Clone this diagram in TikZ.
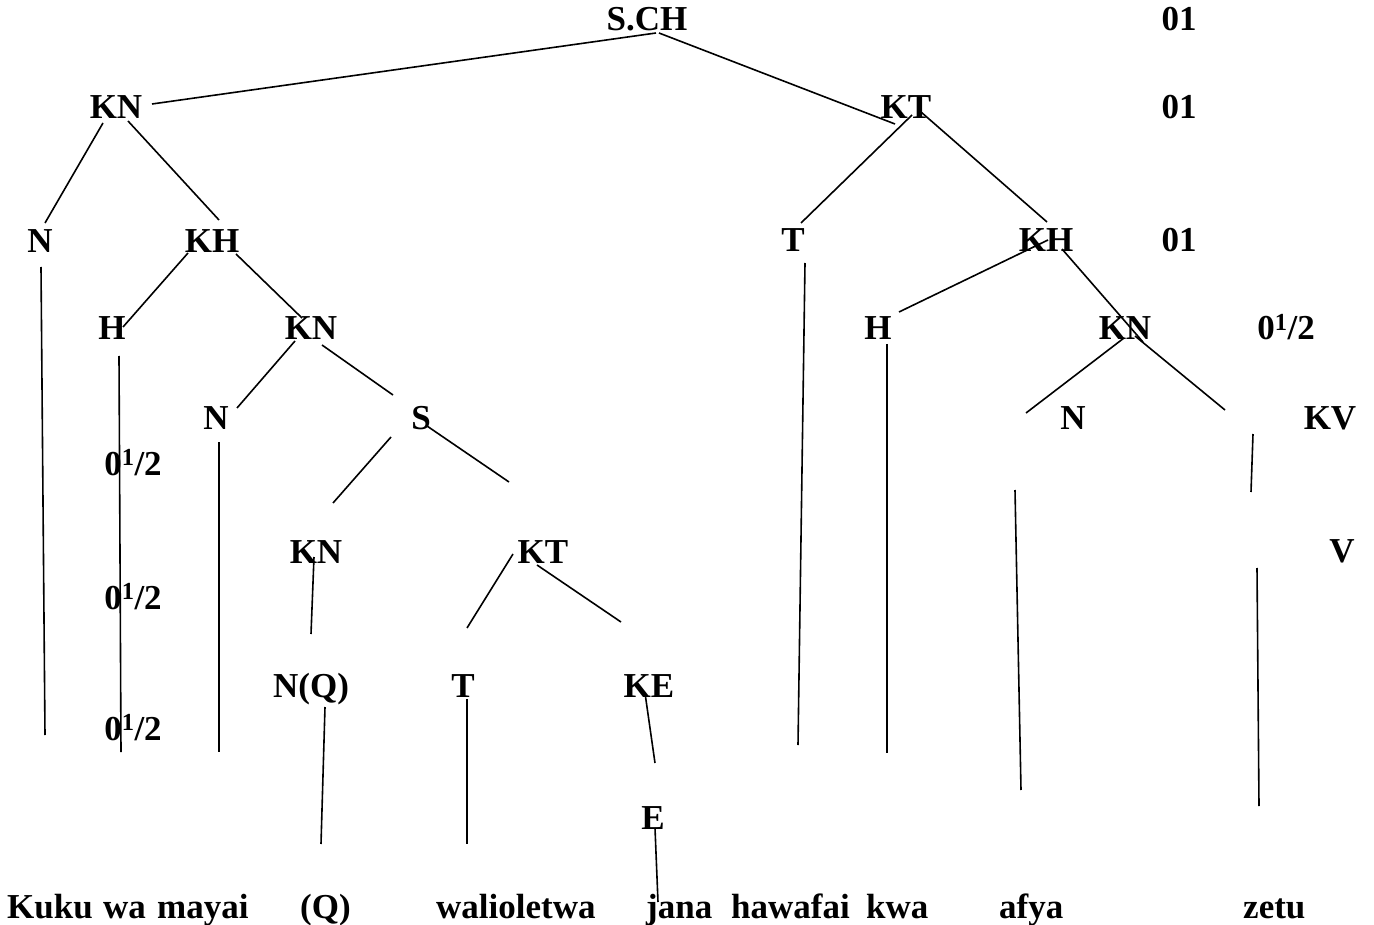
\documentclass[tikz,border=0pt]{standalone}
\usepackage{fontspec}
\setmainfont{Liberation Serif}
\tikzset{
  lbl/.style={inner sep=0pt, anchor=base, font=\bfseries\fontsize{35}{40}\selectfont},
  wrd/.style={inner sep=0pt, anchor=base west, font=\bfseries\fontsize{35}{40}\selectfont},
  conn/.style={draw=black, line width=1.6pt}
}
\newcommand{\half}{0\textsuperscript{1}/2}
\begin{document}
\begin{tikzpicture}[x=1pt,y=-1pt]
\useasboundingbox (0,0) rectangle (1374,925);
% labels
\node[lbl] (sch) at (647,31) {S.CH};
\node[lbl] (r1) at (1179,31) {01};
\node[lbl] (kn1) at (116,119) {KN};
\node[lbl] (kt1) at (906,119) {KT};
\node[lbl] (r2) at (1179,119) {01};
\node[lbl] (n1) at (40,253) {N};
\node[lbl] (kh1) at (212,253) {KH};
\node[lbl] (t1) at (793,252) {T};
\node[lbl] (kh2) at (1046,252) {KH};
\node[lbl] (r3) at (1179,252) {01};
\node[lbl] (h1) at (112,340) {H};
\node[lbl] (kn2) at (311,340) {KN};
\node[lbl] (h2) at (878,340) {H};
\node[lbl] (kn3) at (1125,340) {KN};
\node[lbl] (r4) at (1286,340) {\half};
\node[lbl] (n2) at (216,429) {N};
\node[lbl] (s1) at (421,429) {S};
\node[lbl] (n3) at (1073,429) {N};
\node[lbl] (kv) at (1330,429) {KV};
\node[lbl] (f1) at (133,475) {\half};
\node[lbl] (kn4) at (316,563) {KN};
\node[lbl] (kt2) at (543,563) {KT};
\node[lbl] (v) at (1342,562) {V};
\node[lbl] (f2) at (133,609) {\half};
\node[lbl] (nq) at (311,697) {N(Q)};
\node[lbl] (t2) at (463,697) {T};
\node[lbl] (ke) at (649,697) {KE};
\node[lbl] (f3) at (133,740) {\half};
\node[lbl] (e) at (653,829) {E};
% words
\node[wrd] (w1) at (7,918) {Kuku};
\node[wrd] (w2) at (103,918) {wa};
\node[wrd] (w3) at (157,918) {mayai};
\node[wrd] (w4) at (300,918) {(Q)};
\node[wrd] (w5) at (436,918) {walioletwa};
\node[wrd] (w6) at (646,918) {jana};
\node[wrd] (w7) at (731,918) {hawafai};
\node[wrd] (w8) at (866,918) {kwa};
\node[wrd] (w9) at (999,918) {afya};
\node[wrd] (w10) at (1243,918) {zetu};
% connector end points
\coordinate (a1) at (656,33);   \coordinate (b1) at (152,104);
\coordinate (a2) at (659,33);   \coordinate (b2) at (895,124);
\coordinate (a3) at (103,123);  \coordinate (b3) at (45,223);
\coordinate (a4) at (128,121);  \coordinate (b4) at (219,220);
\coordinate (a5) at (41,267);   \coordinate (b5) at (45,735);
\coordinate (a6) at (188,253);  \coordinate (b6) at (123,327);
\coordinate (a7) at (236,254);  \coordinate (b7) at (302,318);
\coordinate (a8) at (119,356);  \coordinate (b8) at (121,752);
\coordinate (a9) at (295,341);  \coordinate (b9) at (237,408);
\coordinate (a10) at (322,345); \coordinate (b10) at (393,395);
\coordinate (a11) at (219,442); \coordinate (b11) at (219,752);
\coordinate (a12) at (391,437); \coordinate (b12) at (333,503);
\coordinate (a13) at (427,426); \coordinate (b13) at (509,482);
\coordinate (a14) at (314,557); \coordinate (b14) at (311,634);
\coordinate (a15) at (513,554); \coordinate (b15) at (467,628);
\coordinate (a16) at (537,565); \coordinate (b16) at (621,622);
\coordinate (a17) at (325,707); \coordinate (b17) at (321,844);
\coordinate (a18) at (467,699); \coordinate (b18) at (467,844);
\coordinate (a19) at (645,693); \coordinate (b19) at (655,763);
\coordinate (a20) at (655,828); \coordinate (b20) at (658,902);
\coordinate (a21) at (912,115); \coordinate (b21) at (801,223);
\coordinate (a22) at (921,112); \coordinate (b22) at (1047,222);
\coordinate (a23) at (805,263); \coordinate (b23) at (798,745);
\coordinate (a24) at (1048,240);\coordinate (b24) at (899,312);
\coordinate (a25) at (1062,249);\coordinate (b25) at (1143,342);
\coordinate (a26) at (1124,338);\coordinate (b26) at (1026,413);
\coordinate (a27) at (1135,336);\coordinate (b27) at (1225,410);
\coordinate (a28) at (887,344); \coordinate (b28) at (887,753);
\coordinate (a29) at (1253,434);\coordinate (b29) at (1251,492);
\coordinate (a30) at (1015,490);\coordinate (b30) at (1021,790);
\coordinate (a31) at (1257,568);\coordinate (b31) at (1259,806);
\foreach \i in {1,...,31} { \draw[conn] (a\i) -- (b\i); }
\end{tikzpicture}
\end{document}
